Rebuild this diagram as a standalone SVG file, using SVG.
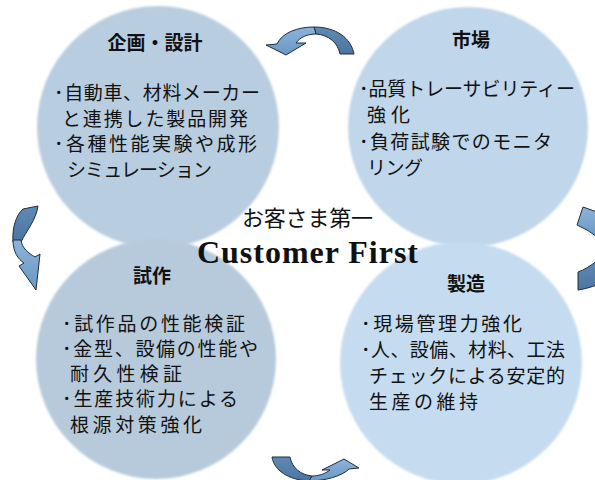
<svg xmlns="http://www.w3.org/2000/svg" width="595" height="480" viewBox="0 0 595 480">
<defs>
<style>
.t{font-family:"Noto Sans CJK JP","Noto Sans",sans-serif;font-size:19px;fill:#111;}
.h{font-family:"Noto Sans CJK JP","Noto Sans",sans-serif;font-size:19px;font-weight:bold;fill:#111;text-anchor:middle;}
.c{font-family:"Noto Sans CJK JP","Noto Sans",sans-serif;font-size:22px;fill:#111;}
.en{font-family:"Liberation Serif","Times New Roman",serif;font-size:32px;font-weight:bold;fill:#111;}
.al{fill:url(#gl);stroke:#1f2d3c;stroke-width:1;stroke-linejoin:round;}
.ad{fill:url(#gd);stroke:#1f2d3c;stroke-width:1;stroke-linejoin:round;}
</style>
<filter id="soft" x="-5%" y="-5%" width="110%" height="110%"><feGaussianBlur stdDeviation="1.2"/></filter>
<linearGradient id="gl" x1="0" y1="0" x2="0" y2="1"><stop offset="0" stop-color="#8db4da"/><stop offset="1" stop-color="#6a97c4"/></linearGradient>
<linearGradient id="gd" x1="0" y1="0" x2="0" y2="1"><stop offset="0" stop-color="#5f8ab4"/><stop offset="1" stop-color="#4c76a0"/></linearGradient>
</defs>
<rect width="595" height="480" fill="#fff"/>

<g id="node-kikaku">
<circle cx="158" cy="127" r="121" fill="#b9cde0" filter="url(#soft)"/>
<text class="h" x="155" y="50">企画・設計</text>
<text class="t" x="54" y="100" textLength="206" lengthAdjust="spacing">･自動車、材料メーカー</text>
<text class="t" x="62" y="126" textLength="186" lengthAdjust="spacing">と連携した製品開発</text>
<text class="t" x="54" y="151" textLength="203" lengthAdjust="spacing">･各種性能実験や成形</text>
<text class="t" x="67" y="177" textLength="145" lengthAdjust="spacing">シミュレーション</text>
</g>

<g id="node-shijo">
<circle cx="468" cy="127" r="120" fill="#c0d6ea" filter="url(#soft)"/>
<text class="h" x="471" y="47">市場</text>
<text class="t" x="359" y="96" textLength="216" lengthAdjust="spacing">･品質トレーサビリティー</text>
<text class="t" x="367" y="122" textLength="43" lengthAdjust="spacing">強化</text>
<text class="t" x="359" y="149" textLength="193" lengthAdjust="spacing">･負荷試験でのモニタ</text>
<text class="t" x="367" y="175" textLength="56" lengthAdjust="spacing">リング</text>
</g>

<g id="node-shisaku">
<circle cx="156" cy="359" r="120" fill="#b7cadb" filter="url(#soft)"/>
<text class="h" x="152" y="283">試作</text>
<text class="t" x="62" y="331" textLength="183" lengthAdjust="spacing">･試作品の性能検証</text>
<text class="t" x="62" y="356" textLength="196" lengthAdjust="spacing">･金型、設備の性能や</text>
<text class="t" x="70" y="381" textLength="112" lengthAdjust="spacing">耐久性検証</text>
<text class="t" x="62" y="406" textLength="176" lengthAdjust="spacing">･生産技術力による</text>
<text class="t" x="70" y="432" textLength="132" lengthAdjust="spacing">根源対策強化</text>
</g>

<g id="node-seizo">
<circle cx="461" cy="363" r="121" fill="#c5dcf0" filter="url(#soft)"/>
<text class="h" x="466" y="291">製造</text>
<text class="t" x="361" y="331" textLength="161" lengthAdjust="spacing">･現場管理力強化</text>
<text class="t" x="361" y="357" textLength="204" lengthAdjust="spacing">･人、設備、材料、工法</text>
<text class="t" x="369" y="383" textLength="196" lengthAdjust="spacing">チェックによる安定的</text>
<text class="t" x="369" y="409" textLength="109" lengthAdjust="spacing">生産の維持</text>
</g>

<g id="center">
<text class="c" x="242" y="226" textLength="131" lengthAdjust="spacing">お客さま第一</text>
<text class="en" x="197" y="263" textLength="221" lengthAdjust="spacing">Customer First</text>
</g>

<g id="connectors">
<path class="ad" d="M314,27 C336,27 351,38 354,54 L340,54 C338,43 329,35 316,34 Z"/>
<path class="al" d="M314,27 C297,27 282,33 277,44 L266,45 L286,55 L306,43 L296,43 C300,37 308,34 316,34 Z"/>
<path class="ad" d="M23,209 L38,206 C36,220 27,230 21,242 L13,242 C12,228 16,215 23,209 Z"/>
<path class="al" d="M13,240 C13,252 18,259 24,263 L19,266 L36,290 L40,254 L35,257 C28,253 22,248 21,240 Z"/>
<path class="ad" d="M272,457 L290,457 C292,468 301,475 312,476 L309,481 C288,480 274,470 272,457 Z"/>
<path class="al" d="M309,481 C325,481 342,476 349,469 L359,468 L344,459 L322,470 L330,470 C325,474 318,476 312,476 Z"/>
<path class="ad" d="M578,272 C584,270 590,266 597,261 L597,285 C591,287 585,289 578,290 Z"/>
<path class="al" d="M583,207 L577,225 L587,230 C590,232 593,234 597,237 L597,212 Z"/>
</g>
</svg>
